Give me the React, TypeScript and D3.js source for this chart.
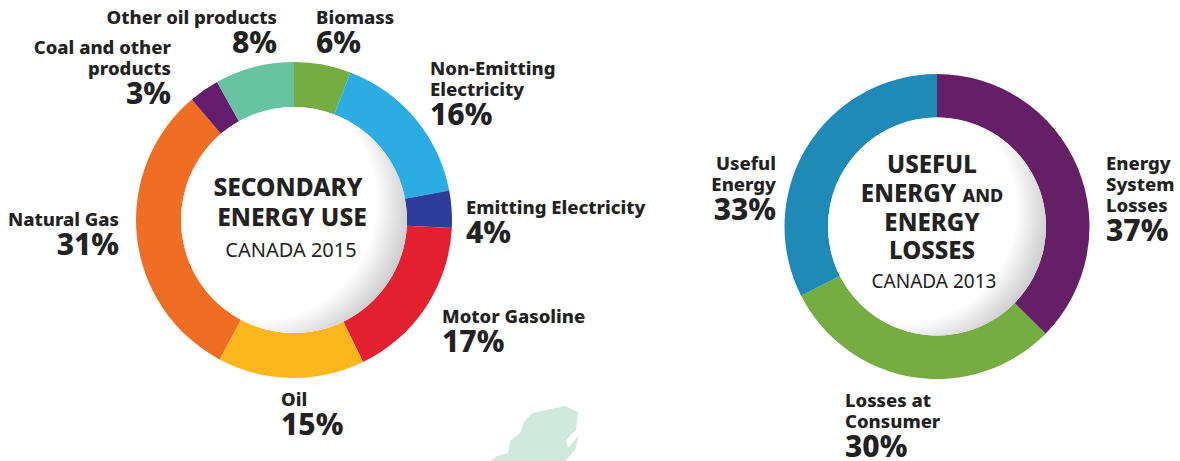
import React from "react";
import * as d3 from "d3";

const leftValues = [5.8, 16.2, 3.8, 17, 15, 31, 3.1, 8.1];
const leftColors = ["#76ad42", "#2bace2", "#2e3d9c", "#e3202f", "#fdb71c", "#ef6e23", "#631d6c", "#68c3a3"];
const rightValues = [37.4, 30.1, 32.5];
const rightColors = ["#651f66", "#76ad42", "#1f8ab8"];
const labelFont = "'Noto Sans','Open Sans',sans-serif";
const leftLabels: [string[], string, number, number, string][] = [
  [["Other oil products"], "8%", 277, 24, "end"],
  [["Biomass"], "6%", 316, 24, "start"],
  [["Non-Emitting", "Electricity"], "16%", 430, 75, "start"],
  [["Emitting Electricity"], "4%", 466, 214, "start"],
  [["Motor Gasoline"], "17%", 442, 323, "start"],
  [["Oil"], "15%", 281, 406, "start"],
  [["Natural Gas"], "31%", 119, 226, "end"],
  [["Coal and other", "products"], "3%", 171, 54, "end"],
];
const rightLabels: [string[], string, number, number, string][] = [
  [["Useful", "Energy"], "33%", 776, 170, "end"],
  [["Energy", "System", "Losses"], "37%", 1106, 170, "start"],
  [["Losses at", "Consumer"], "30%", 845, 407, "start"],
];

function Label({ lines, pct, x, y, anchor }: { lines: string[]; pct: string; x: number; y: number; anchor: string }) {
  return (
    <g textAnchor={anchor as any} fontFamily={labelFont} fill="#222">
      {lines.map((l, i) => (
        <text key={l} x={x} y={y + i * 21} fontSize={18.5} fontWeight={800}>{l}</text>
      ))}
      <text x={x} y={y + (lines.length - 1) * 21 + 29} fontSize={30} fontWeight={800}>{pct}</text>
    </g>
  );
}

function Donut({ values, colors, cx, cy, ro, ri }: { values: number[]; colors: string[]; cx: number; cy: number; ro: number; ri: number }) {
  const pie = d3.pie<number>().sort(null)(values);
  const arc = d3.arc<d3.PieArcDatum<number>>().innerRadius(ri).outerRadius(ro);
  return (
    <g transform={`translate(${cx},${cy})`}>
      {pie.map((d, i) => <path key={i} d={arc(d) ?? ""} fill={colors[i]} />)}
      <circle r={ri} fill="url(#innerShade)" />
    </g>
  );
}

export default function App() {
  return (
    <svg width={1180} height={461} style={{ position: "absolute", left: 0, top: 0, background: "#fff" }}>
      <defs>
        <radialGradient id="innerShade" cx="0.34" cy="0.42" r="0.67">
          <stop offset="0.78" stopColor="#fff" />
          <stop offset="1" stopColor="#cfcfd1" />
        </radialGradient>
      </defs>
      <path d="M490 461 L497 456 L508 453 L510 441 L520 433 L524 422 L532 413 L555 408 L565 406 L578 412 L576 430 L566 440 L568 448 L579 435 L575 450 L565 461 Z" fill="#cfe9df" />
      <Donut values={leftValues} colors={leftColors} cx={294} cy={220} ro={158} ri={113} />
      <Donut values={rightValues} colors={rightColors} cx={937} cy={226.5} ro={152.5} ri={109} />
      {leftLabels.map(([l, p, x, y, a]) => <Label key={l[0]} lines={l} pct={p} x={x} y={y} anchor={a} />)}
      {rightLabels.map(([l, p, x, y, a]) => <Label key={l[0]} lines={l} pct={p} x={x} y={y} anchor={a} />)}
      <g textAnchor="middle" fontFamily={labelFont} fill="#222">
        <text x={288} y={196} fontSize={24.5} fontWeight={800}>SECONDARY</text>
        <text x={292} y={226} fontSize={24.5} fontWeight={800}>ENERGY USE</text>
        <text x={291} y={257} fontSize={20} fontWeight={400}>CANADA 2015</text>
        <text x={932} y={173} fontSize={24} fontWeight={800}>USEFUL</text>
        <text x={932} y={202} fontSize={24} fontWeight={800}>ENERGY <tspan fontSize={18}>AND</tspan></text>
        <text x={932} y={231} fontSize={24} fontWeight={800}>ENERGY</text>
        <text x={932} y={259} fontSize={24} fontWeight={800}>LOSSES</text>
        <text x={934} y={288} fontSize={19} fontWeight={400}>CANADA 2013</text>
      </g>
    </svg>
  );
}
